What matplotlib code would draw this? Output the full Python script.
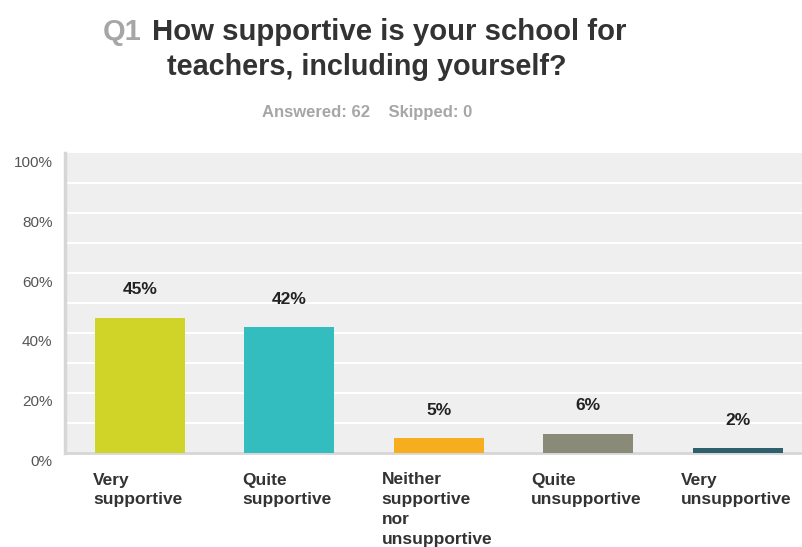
import matplotlib
matplotlib.use("Agg")
import matplotlib.pyplot as plt
import matplotlib.transforms as mtrans

categories = ["Very\nsupportive", "Quite\nsupportive", "Neither\nsupportive\nnor\nunsupportive",
              "Quite\nunsupportive", "Very\nunsupportive"]
values = [45.16, 41.94, 4.84, 6.45, 1.61]
value_labels = ["45%", "42%", "5%", "6%", "2%"]
colors = ["#d0d328", "#33bdbf", "#f6ae1f", "#8a8a78", "#2e5f6c"]
yticks = [0, 20, 40, 60, 80, 100]
ytick_labels = ["0%", "20%", "40%", "60%", "80%", "100%"]

plt.rcParams['font.family'] = ["Liberation Sans", "DejaVu Sans"]

W, H = 803, 547
fig = plt.figure(figsize=(W / 100, H / 100), dpi=100)
ax_left, ax_right, ax_top, ax_bot = 65, 803, 153, 453
ax = fig.add_axes([ax_left / W, 1 - ax_bot / H, (ax_right - ax_left) / W, (ax_bot - ax_top) / H])
ax.set_facecolor("#efefef")

step = 149.5
x = list(range(len(values)))
ax.bar(x, values, width=90 / step, color=colors, zorder=3)
ax.set_xlim(-0.5, -0.5 + (ax_right - ax_left) / step)
ax.set_ylim(0, 100)

for y in range(10, 100, 10):
    ax.axhline(y, color="white", lw=1.5, zorder=1)

for xi, v, lab in zip(x, values, value_labels):
    ax.annotate(lab, (xi, v), xytext=(0, 20), textcoords="offset points",
                ha="center", va="center", fontsize=12.5, fontweight="bold",
                color="#222222")

ax.set_yticks(yticks)
ax.set_yticklabels(ytick_labels, fontsize=11, color="#555555")
ax.tick_params(axis="y", length=0, pad=9)
offset = mtrans.ScaledTranslation(0, -8 / 100, fig.dpi_scale_trans)
for t in ax.get_yticklabels():
    t.set_transform(t.get_transform() + offset)

ax.set_xticks(x)
ax.set_xticklabels([])
ax.tick_params(axis="x", length=0)
for xi, c in zip(x, categories):
    ax.text(xi - 2 / step, -0.065, c, transform=ax.get_xaxis_transform(),
            ha="center", va="top", multialignment="left", fontsize=12.5,
            fontweight="bold", color="#333333", linespacing=1.4)

for s in ["top", "right"]:
    ax.spines[s].set_visible(False)
ax.spines["left"].set_color("#d6d6d6")
ax.spines["left"].set_linewidth(2.5)
ax.spines["bottom"].set_color("#d6d6d6")
ax.spines["bottom"].set_linewidth(2)

# Title
fig.text(103 / W, 1 - 32 / H, "Q1", ha="left", va="center", fontsize=20.9,
         fontweight="bold", color="#a6a6a6")
fig.text(152 / W, 1 - 32 / H, "How supportive is your school for", ha="left", va="center",
         fontsize=21.2, fontweight="bold", color="#333333")
fig.text(367 / W, 1 - 67 / H, "teachers, including yourself?", ha="center", va="center",
         fontsize=20.7, fontweight="bold", color="#333333")
fig.text(367 / W, 1 - 113 / H, "Answered: 62    Skipped: 0", ha="center", va="center",
         fontsize=12, fontweight="bold", color="#a6a6a6")

fig.savefig("out.png", dpi=100)
